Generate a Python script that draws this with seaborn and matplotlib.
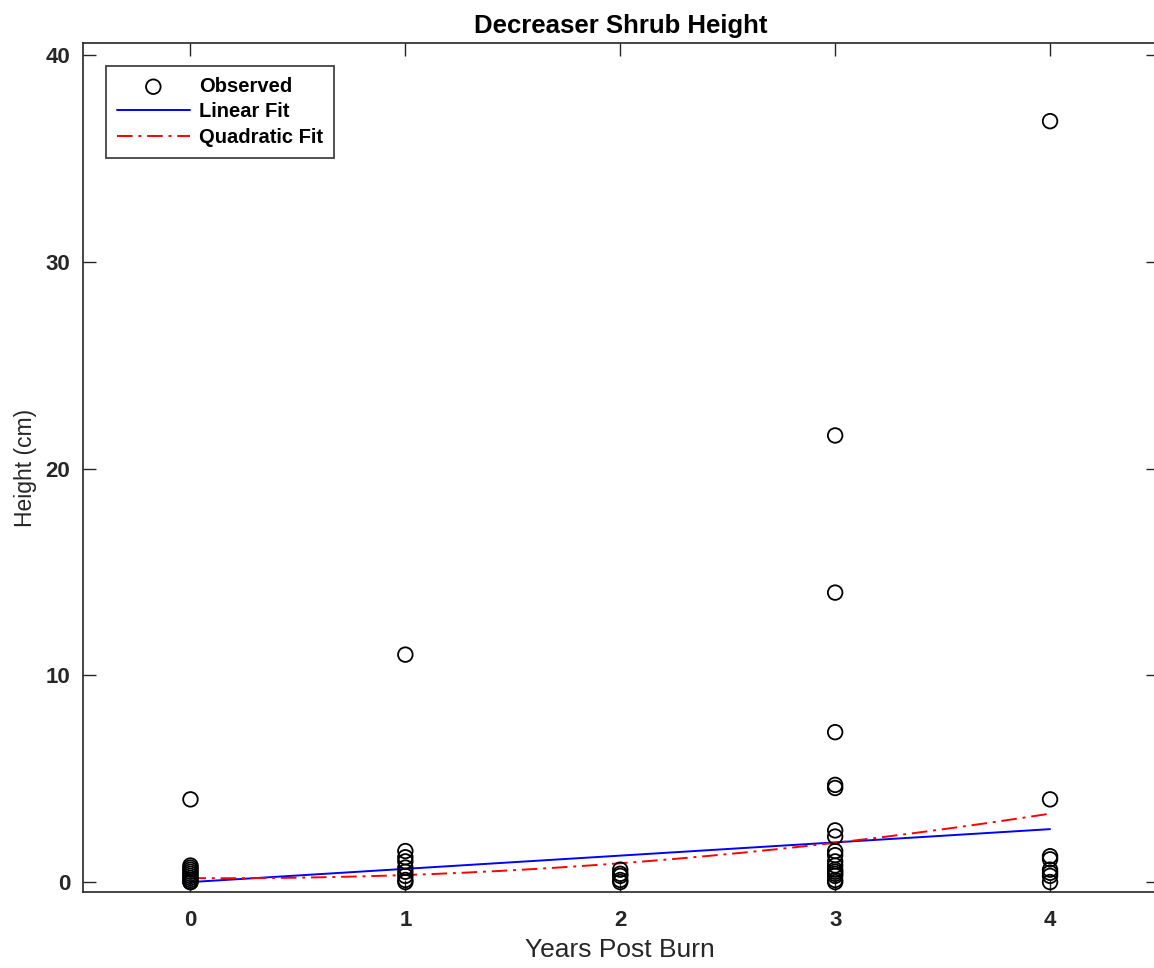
import numpy as np
import pandas as pd
import matplotlib
matplotlib.use("Agg")
import matplotlib.pyplot as plt
import seaborn as sns

# Observed shrub heights (cm) by years since burn
year0 = [4.0, 0.8, 0.7, 0.6, 0.5, 0.4, 0.3, 0.2, 0.1, 0.0, 0.0]
year1 = [11.0, 1.5, 1.2, 1.0, 0.7, 0.5, 0.3, 0.1, 0.0]
year2 = [0.6, 0.4, 0.3, 0.1, 0.0]
year3 = [21.6, 14.0, 7.25, 4.7, 4.55, 2.5, 2.2, 1.5, 1.3, 1.0, 0.8, 0.6,
         0.5, 0.4, 0.3, 0.1, 0.0]
year4 = [36.8, 4.0, 1.25, 1.1, 0.6, 0.45, 0.3, 0.0]

# Fitted model coefficients (highest power first)
linear_coefs = [0.64, 0.0]
quad_coefs = [0.21, -0.06, 0.19]

xticks = [0, 1, 2, 3, 4]
yticks = [0, 10, 20, 30, 40]

groups = [year0, year1, year2, year3, year4]
obs = pd.DataFrame({
    "year": np.concatenate([[i] * len(g) for i, g in enumerate(groups)]),
    "height": np.concatenate(groups),
})

xfit = np.linspace(0, 4, 200)
fits = pd.DataFrame({
    "year": xfit,
    "linear": np.polyval(linear_coefs, xfit),
    "quad": np.polyval(quad_coefs, xfit),
})

sns.set_style("white")
plt.rcParams["font.family"] = ["Liberation Sans", "DejaVu Sans"]

fig = plt.figure(figsize=(11.54, 9.68), dpi=100)
W, H = 1154, 968
ax = fig.add_axes([83 / W, (H - 892) / H, (1157.5 - 83) / W, (892 - 43) / H])

sns.scatterplot(data=obs, x="year", y="height", ax=ax, marker="o",
                s=110, facecolor="none", edgecolor="black", linewidth=1.3,
                label="Observed", zorder=3)
sns.lineplot(data=fits, x="year", y="linear", ax=ax, color="blue",
             linewidth=1.4, label="Linear Fit", zorder=2)
sns.lineplot(data=fits, x="year", y="quad", ax=ax, color="red",
             linewidth=1.4, linestyle=(0, (8, 3, 1.5, 3)),
             label="Quadratic Fit", zorder=2)

ax.set_xlim(-0.5, 4.5)
ax.set_ylim(-0.48, 40.58)
ax.set_xticks(xticks)
ax.set_yticks(yticks)

dark = (0.15, 0.15, 0.15)
for s in ax.spines.values():
    s.set_visible(True)
    s.set_color(dark)
    s.set_linewidth(1.2)
ax.tick_params(direction="in", length=9, width=1.0, color=dark,
               bottom=True, left=True, top=True, right=True,
               labelsize=16, labelcolor=dark)
ax.tick_params(axis="x", pad=13)
ax.tick_params(axis="y", pad=9)
for lab in ax.get_xticklabels() + ax.get_yticklabels():
    lab.set_fontweight("bold")

ax.set_title("Decreaser Shrub Height", fontsize=18.5, fontweight="bold",
             color="black", pad=7)
ax.set_xlabel("Years Post Burn", fontsize=19, color=dark, labelpad=5)
ax.set_ylabel("Height (cm)", fontsize=16.5, color=dark, labelpad=6)

leg = ax.legend(loc="upper left", bbox_to_anchor=(0.0214, 0.973),
                frameon=True, fancybox=False, edgecolor="black",
                prop={"size": 14.5, "weight": "bold"}, handlelength=3.6,
                borderpad=0.55, labelspacing=0.32, handletextpad=0.45,
                borderaxespad=0)
leg.get_frame().set_linewidth(1.2)
for t in leg.get_texts():
    t.set_color("black")

fig.savefig("out.png", dpi=100)
